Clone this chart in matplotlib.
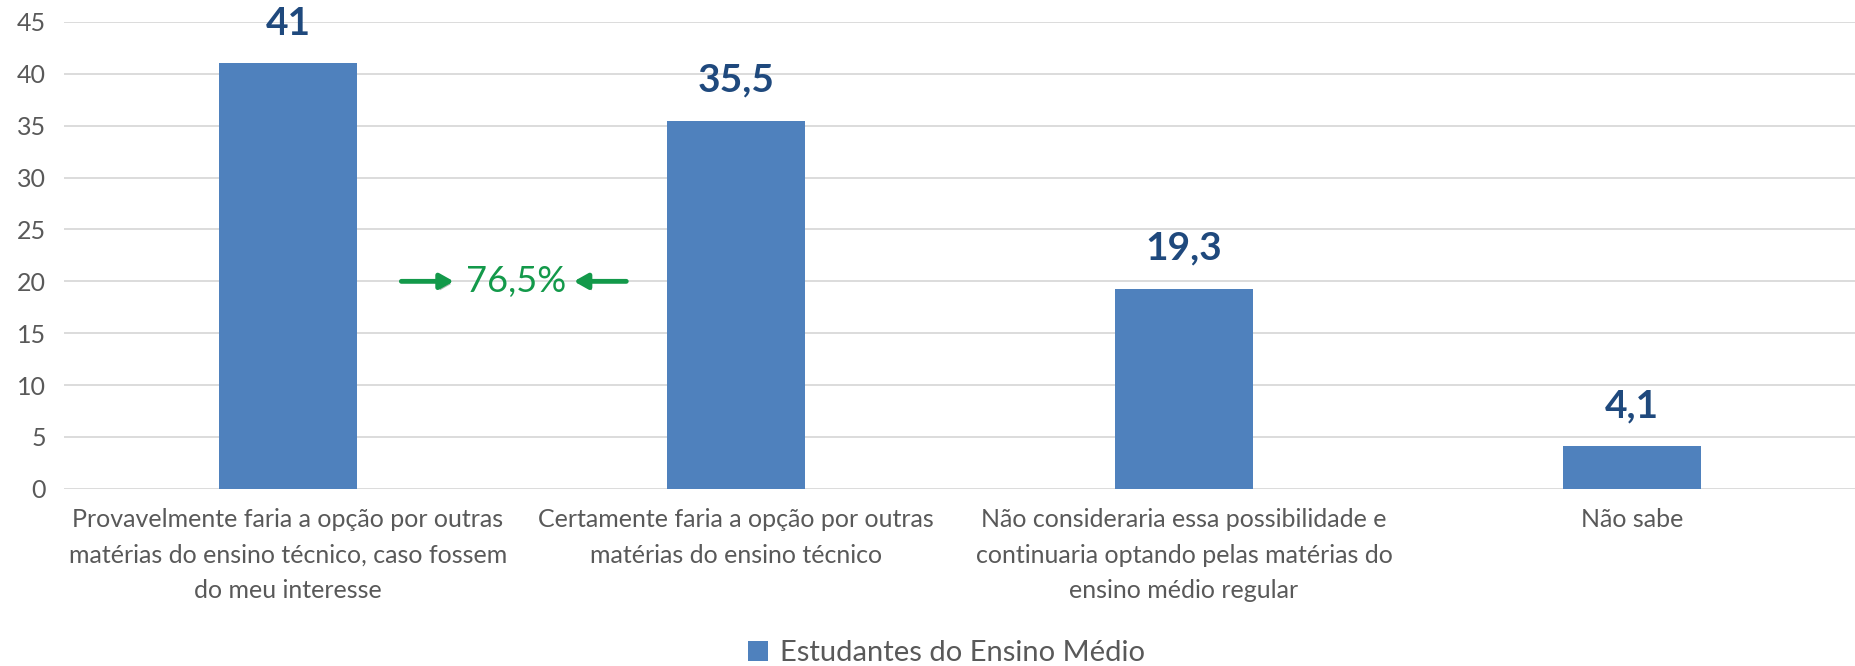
import matplotlib.pyplot as plt
import matplotlib.patheffects as pe
import numpy as np

# -- Data -- #
categories = [
    'Provavelmente faria a opção por outras\nmatérias do ensino técnico, caso fossem\ndo meu interesse',
    'Certamente faria a opção por outras\nmatérias do ensino técnico',
    'Não consideraria essa possibilidade e\ncontinuaria optando pelas matérias do\nensino médio regular',
    'Não sabe',
]
values = [41, 35.5, 19.3, 4.1]
value_labels = ['41', '35,5', '19,3', '4,1']
series_name = 'Estudantes do Ensino Médio'
highlight_text = '76,5%'
highlight_y = 20
yticks = [0, 5, 10, 15, 20, 25, 30, 35, 40, 45]

plt.rcParams['font.family'] = ['Lato', 'DejaVu Sans']

bar_color = '#4f81bd'
label_color = '#1f497d'
grey = '#595959'
green = '#13994a'

fig = plt.figure(figsize=(18.56, 6.66), dpi=100)
ax = fig.add_axes([0.0345, 0.266, 0.9655, 0.701])

x = np.arange(len(categories))
ax.bar(x, values, width=0.31, color=bar_color, label=series_name, zorder=3)

for xi, v, lab in zip(x, values, value_labels):
    ax.text(xi, v + 2.2, lab, ha='center', va='bottom', fontsize=28,
            fontweight='bold', color=label_color)

ax.set_xlim(-0.5, len(categories) - 0.5)
ax.set_ylim(0, 45)
ax.set_yticks(yticks)
ax.yaxis.grid(True, color='#d9d9d9', linewidth=1.3, zorder=0)
ax.set_xticks(x)
ax.set_xticklabels(categories, fontsize=18, color=grey, linespacing=1.65)
ax.tick_params(axis='y', labelsize=18, colors=grey, length=0, pad=13)
ax.tick_params(axis='x', length=0, pad=14)
for s in ax.spines.values():
    s.set_visible(False)

# -- 76,5% annotation with arrows -- #
ax.text(0.509, highlight_y, highlight_text, ha='center', va='center',
        fontsize=26, color=green, zorder=4)
shadow = [pe.SimplePatchShadow(offset=(1.5, -2), alpha=0.35), pe.Normal()]
for x0, x1 in [(0.253, 0.37), (0.755, 0.638)]:
    ax.annotate('', xy=(x1, highlight_y), xytext=(x0, highlight_y),
                arrowprops=dict(arrowstyle='-|>,head_length=0.8,head_width=0.45',
                                color=green, lw=3.5, shrinkA=0, shrinkB=0,
                                path_effects=shadow), zorder=4)

fig.legend(loc='lower center', bbox_to_anchor=(0.51, -0.04), frameon=False,
           fontsize=21, handlelength=0.7, handleheight=0.7, handletextpad=0.4,
           labelcolor=grey)

fig.savefig('out.png', dpi=100)
